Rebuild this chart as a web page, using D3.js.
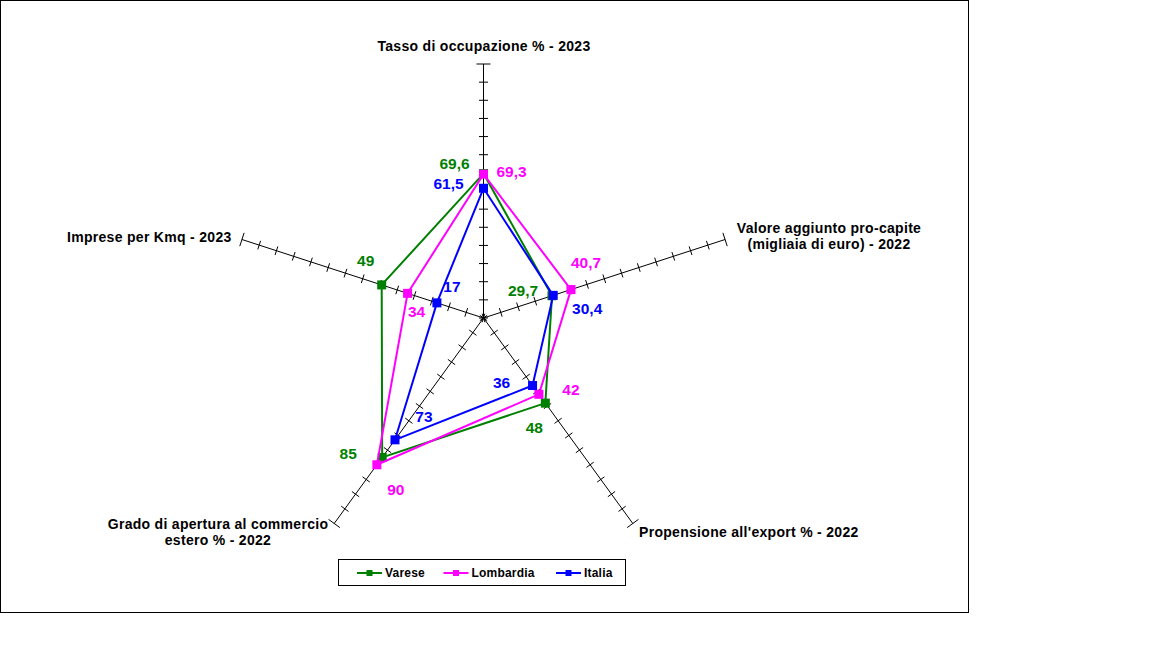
<!DOCTYPE html>
<html>
<head>
<meta charset="utf-8">
<script src="https://cdn.jsdelivr.net/npm/d3@7"></script>
<style>
  body { margin: 0; background: #fff; }
  svg text { font-family: Arial, "Liberation Sans", sans-serif; font-weight: bold; }
</style>
</head>
<body>
<svg id="chart" width="1152" height="648"></svg>
<script>
// axis (category) labels, clockwise from the top
const categories = [
  ['Tasso di occupazione % - 2023'],
  ['Valore aggiunto pro-capite', '(migliaia di euro) - 2022'],
  ['Propensione all\'export % - 2022'],
  ['Grado di apertura al commercio', 'estero % - 2022'],
  ['Imprese per Kmq - 2023']
];

const seriesNames = ['Varese', 'Lombardia', 'Italia'];
const vareseValues = [69.6, 29.7, 48, 85, 49];
const lombardiaValues = [69.3, 40.7, 42, 90, 34];
const italiaValues = [61.5, 30.4, 36, 73, 17];
const valueLabels = [
  ['69,6', '29,7', '48', '85', '49'],
  ['69,3', '40,7', '42', '90', '34'],
  ['61,5', '30,4', '36', '73', '17']
];
const axisMin = -10;
const axisMax = 130;
const axisStep = 10;

// ---- layout ----
const colors = ['#008000', '#ff00ff', '#0000ff'];
const cx = 483.5;
const cy = 318;
const radius = 254;

// where each data label sits relative to its point
const labelOffsets = [
  [[-29, -10], [-29, -5], [-11, 24], [-34, -4], [-16, -25]],
  [[28, -3], [15, -27], [32, -5], [19, 25], [9, 18]],
  [[-35, -5], [34, 13], [-31, -3], [29, -23], [15, -16]]
];

// where each category label sits: [x, first baseline, anchor]
const catPos = [
  [484, 51, 'middle'],
  [829, 233, 'middle'],
  [639, 537, 'start'],
  [218, 528.5, 'middle'],
  [67, 241.5, 'start']
];

const svg = d3.select('#chart');

svg.append('rect')
    .attr('x', 0.5).attr('y', 0.5)
    .attr('width', 968).attr('height', 612)
    .attr('fill', '#fff')
    .attr('stroke', '#000')
    .attr('stroke-width', 1);

const r = d3.scaleLinear().domain([axisMin, axisMax]).range([0, radius]);
const angle = d3.scaleLinear().domain([0, categories.length]).range([-Math.PI / 2, 1.5 * Math.PI]);

function pt(i, v) {
  var a = angle(i);
  return [cx + r(v) * Math.cos(a), cy + r(v) * Math.sin(a)];
}

// axes with cross ticks
const tickValues = d3.range(axisMin, axisMax + 1, axisStep);
const axes = svg.append('g').attr('stroke', '#000').attr('stroke-width', 1);
categories.forEach(function(c, i) {
  var end = pt(i, axisMax);
  axes.append('line')
      .attr('x1', cx).attr('y1', cy)
      .attr('x2', end[0]).attr('y2', end[1]);

  var a = angle(i);
  var px = -Math.sin(a);
  var py = Math.cos(a);
  function tickLen(d) {
    return d === axisMax ? 7 : 4.5;
  }
  axes.selectAll(null).data(tickValues)
      .enter().append('line')
      .attr('x1', function(d) { return pt(i, d)[0] - px * tickLen(d); })
      .attr('y1', function(d) { return pt(i, d)[1] - py * tickLen(d); })
      .attr('x2', function(d) { return pt(i, d)[0] + px * tickLen(d); })
      .attr('y2', function(d) { return pt(i, d)[1] + py * tickLen(d); });
});

// category labels
categories.forEach(function(lines, i) {
  var t = svg.append('text')
      .attr('x', catPos[i][0])
      .attr('y', catPos[i][1])
      .attr('text-anchor', catPos[i][2])
      .attr('font-size', 14)
      .attr('letter-spacing', 0.3)
      .attr('fill', '#000');
  lines.forEach(function(s, j) {
    t.append('tspan')
        .attr('x', catPos[i][0])
        .attr('dy', j === 0 ? 0 : 16)
        .text(s);
  });
});

// series
const allValues = [vareseValues, lombardiaValues, italiaValues];
const line = d3.line().curve(d3.curveLinearClosed);

allValues.forEach(function(values, s) {
  var pts = values.map(function(v, i) { return pt(i, v); });
  var g = svg.append('g');
  g.append('path')
      .attr('d', line(pts))
      .attr('fill', 'none')
      .attr('stroke', colors[s])
      .attr('stroke-width', 2);
  g.selectAll('rect').data(pts)
      .enter().append('rect')
      .attr('x', function(d) { return d[0] - 4.5; })
      .attr('y', function(d) { return d[1] - 4.5; })
      .attr('width', 9)
      .attr('height', 9)
      .attr('fill', colors[s]);
});

// data labels drawn last so they sit above the lines
allValues.forEach(function(values, s) {
  svg.append('g').selectAll('text').data(values)
      .enter().append('text')
      .attr('x', function(d, i) { return pt(i, d)[0] + labelOffsets[s][i][0]; })
      .attr('y', function(d, i) { return pt(i, d)[1] + labelOffsets[s][i][1]; })
      .attr('dy', '0.36em')
      .attr('text-anchor', 'middle')
      .attr('font-size', 15.5)
      .attr('fill', colors[s])
      .text(function(d, i) { return valueLabels[s][i]; });
});

// legend
const legend = svg.append('g');
legend.append('rect')
    .attr('x', 338.5).attr('y', 559.5)
    .attr('width', 287).attr('height', 26)
    .attr('fill', '#fff')
    .attr('stroke', '#000');
const legendX = [357, 443.5, 556];
seriesNames.forEach(function(name, s) {
  var x = legendX[s];
  var y = 573;
  legend.append('line')
      .attr('x1', x).attr('y1', y)
      .attr('x2', x + 25).attr('y2', y)
      .attr('stroke', colors[s])
      .attr('stroke-width', 2);
  legend.append('rect')
      .attr('x', x + 9.5).attr('y', y - 3)
      .attr('width', 6).attr('height', 6)
      .attr('fill', colors[s]);
  legend.append('text')
      .attr('x', x + 28)
      .attr('y', y)
      .attr('dy', '0.36em')
      .attr('font-size', 12)
      .attr('letter-spacing', 0.2)
      .attr('fill', '#000')
      .text(name);
});
</script>
</body>
</html>
